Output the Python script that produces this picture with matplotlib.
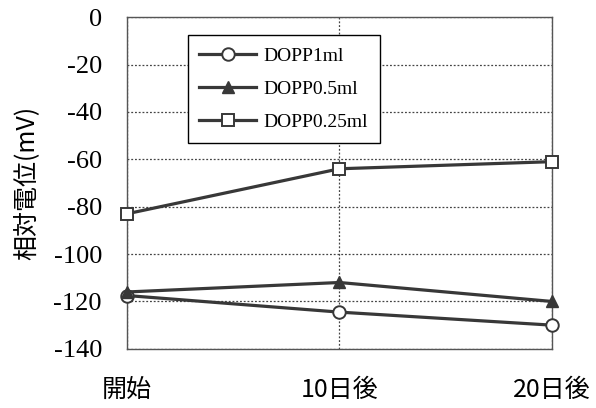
import matplotlib
matplotlib.use("Agg")
import matplotlib.pyplot as plt

categories = ["開始", "10日後", "20日後"]
dopp_1ml = [-117.5, -124.5, -130]
dopp_05ml = [-116, -112, -120]
dopp_025ml = [-83, -64, -61]
yticks = [0, -20, -40, -60, -80, -100, -120, -140]

plt.rcParams['font.family'] = ['Liberation Serif', 'Noto Sans CJK JP']

fig = plt.figure(figsize=(5.96, 4.08), dpi=100)
ax = fig.add_axes([0.213, 0.145, 0.713, 0.813])
x = list(range(len(categories)))
lc = '#383838'
ax.plot(x, dopp_1ml, '-o', color=lc, lw=2.3, ms=9, mfc='white', mec=lc, mew=1.4, label='DOPP1ml', zorder=3, clip_on=False)
ax.plot(x, dopp_05ml, '-^', color=lc, lw=2.3, ms=9, mfc=lc, mec=lc, label='DOPP0.5ml', zorder=3, clip_on=False)
ax.plot(x, dopp_025ml, '-s', color=lc, lw=2.3, ms=9, mfc='white', mec=lc, mew=1.4, label='DOPP0.25ml', zorder=3, clip_on=False)

ax.set_xlim(0, 2)
ax.set_ylim(-140, 0)
ax.set_yticks(yticks)
ax.set_yticklabels([str(v) for v in yticks], fontsize=19)
ax.set_xticks(x)
ax.set_xticklabels(categories, fontsize=18, family=['Noto Sans CJK JP'])
ax.tick_params(axis='y', length=0, pad=18)
ax.tick_params(axis='x', length=0, pad=20)
ax.grid(True, linestyle=(0, (1.5, 1.5)), color='#444444', lw=0.9)
for s in ax.spines.values():
    s.set_color('#555555')
    s.set_linewidth(1)
ax.set_ylabel('相対電位(mV)', fontsize=18, family=['Noto Sans CJK JP'])
ax.yaxis.set_label_coords(-0.205, 0.5)

leg = ax.legend(loc='upper left', bbox_to_anchor=(0.143, 0.945), fontsize=14, frameon=True,
                fancybox=False, edgecolor='black', handlelength=2.9, borderpad=0.6,
                labelspacing=0.8, handletextpad=0.4, borderaxespad=0)
leg.get_frame().set_linewidth(1)
leg.get_frame().set_alpha(1)

fig.savefig('out.png', dpi=100)
